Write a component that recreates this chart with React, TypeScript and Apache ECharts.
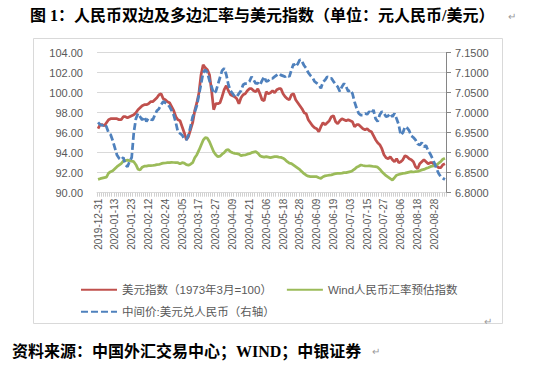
import React, { useEffect, useRef } from "react";
import * as echarts from "echarts";

// Chinese interbank trading days, 2019-12-31 .. 2020-09-04
const tradingDays: [string, number[]][] = [
  ["2019-12", [31]],
  ["2020-01", [2, 3, 6, 7, 8, 9, 10, 13, 14, 15, 16, 17, 20, 21, 22, 23]],
  ["2020-02", [3, 4, 5, 6, 7, 10, 11, 12, 13, 14, 17, 18, 19, 20, 21, 24, 25, 26, 27, 28]],
  ["2020-03", [2, 3, 4, 5, 6, 9, 10, 11, 12, 13, 16, 17, 18, 19, 20, 23, 24, 25, 26, 27, 30, 31]],
  ["2020-04", [1, 2, 3, 7, 8, 9, 10, 13, 14, 15, 16, 17, 20, 21, 22, 23, 24, 27, 28, 29, 30]],
  ["2020-05", [6, 7, 8, 11, 12, 13, 14, 15, 18, 19, 20, 21, 22, 25, 26, 27, 28, 29]],
  ["2020-06", [1, 2, 3, 4, 5, 8, 9, 10, 11, 12, 15, 16, 17, 18, 19, 22, 23, 24, 29, 30]],
  ["2020-07", [1, 2, 3, 6, 7, 8, 9, 10, 13, 14, 15, 16, 17, 20, 21, 22, 23, 24, 27, 28, 29, 30, 31]],
  ["2020-08", [3, 4, 5, 6, 7, 10, 11, 12, 13, 14, 17, 18, 19, 20, 21, 24, 25, 26, 27, 28, 31]],
  ["2020-09", [1, 2, 3, 4]],
];
const categories: string[] = tradingDays.flatMap(([m, days]) =>
  days.map((d) => `${m}-${String(d).padStart(2, "0")}`)
);

const seriesNames = [
  "美元指数（1973年3月=100）",
  "Wind人民币汇率预估指数",
  "中间价:美元兑人民币（右轴）",
];

// US dollar index (left axis)
const dxy = [
  96.4, 96.8, 96.8, 96.7, 97.0, 97.3, 97.4, 97.4, 97.4, 97.4, 97.3, 97.3, 97.6, 97.6, 97.5, 97.6, 97.7,
  97.8, 98.0, 98.3, 98.5, 98.7, 98.8, 98.8, 98.9, 99.1, 99.1, 99.3, 99.5, 99.8, 99.9, 99.4, 99.3, 99.1, 99.0, 98.6, 98.2,
  97.6, 97.3, 97.2, 96.6, 96.0, 95.3, 95.6, 96.3, 97.0, 98.2, 99.0, 100.0, 101.8, 102.8, 102.5, 102.3, 101.8, 100.2, 98.3, 98.9, 98.9, 99.0,
  99.6, 100.3, 100.7, 100.2, 99.8, 99.7, 99.6, 99.4, 98.9, 99.5, 99.8, 99.9, 100.2, 100.4, 100.4, 100.2, 100.1, 100.4, 99.9, 99.3, 99.2,
  100.1, 99.9, 100.0, 100.2, 100.0, 100.3, 100.4, 100.4, 99.9, 99.6, 99.4, 99.3, 99.8, 99.9, 99.3, 99.0, 98.7, 98.4,
  98.0, 97.9, 97.3, 97.0, 96.7, 96.5, 96.4, 96.1, 96.6, 97.0, 96.8, 97.0, 97.2, 97.6, 97.7, 97.1, 96.9, 97.2, 97.4, 97.3,
  97.2, 97.3, 97.2, 97.1, 96.6, 96.8, 96.8, 96.6, 96.4, 96.3, 96.4, 96.2, 96.1, 95.7, 95.3, 95.0, 94.8, 94.4, 93.8, 93.5, 93.4, 93.6, 93.3,
  93.1, 93.4, 93.0, 93.1, 93.3, 93.7, 93.6, 93.4, 93.3, 93.1, 92.6, 92.4, 92.9, 93.1, 93.3, 93.1, 92.9, 93.0, 93.0, 92.8, 92.7,
  92.5, 92.5, 92.8, 92.9,
];

// Wind RMB exchange-rate estimate index (left axis)
const cnyIndex = [
  91.33, 91.4, 91.45, 91.5, 91.55, 91.95, 92.1, 92.2, 92.4, 92.6, 92.75, 92.9, 93.15, 93.2, 93.25, 93.2, 93.15,
  93.1, 92.8, 92.35, 92.27, 92.55, 92.65, 92.65, 92.7, 92.7, 92.72, 92.75, 92.8, 92.82, 92.9, 92.95, 92.97, 93.0, 93.0, 93.03, 93.02,
  93.0, 93.0, 92.88, 93.0, 92.95, 92.8, 92.75, 92.85, 93.0, 93.5, 93.8, 94.25, 94.75, 95.25, 95.5, 95.45, 95.1, 94.6, 94.1, 93.8, 93.6, 93.65,
  93.85, 94.0, 94.25, 94.3, 94.1, 94.0, 93.93, 93.9, 93.85, 93.7, 93.75, 93.77, 93.85, 93.9, 94.0, 94.05, 94.1, 93.95, 93.7, 93.6, 93.55,
  93.6, 93.55, 93.5, 93.55, 93.6, 93.6, 93.55, 93.53, 93.45, 93.3, 93.1, 92.95, 92.9, 92.75, 92.6, 92.45, 92.3, 92.1,
  91.9, 91.75, 91.65, 91.6, 91.6, 91.6, 91.6, 91.5, 91.43, 91.6, 91.68, 91.72, 91.75, 91.78, 91.85, 91.9, 91.93, 91.93, 91.95, 92.0,
  92.0, 92.05, 92.1, 92.2, 92.35, 92.55, 92.65, 92.77, 92.72, 92.68, 92.67, 92.68, 92.65, 92.62, 92.6, 92.55, 92.35, 92.1, 91.9, 91.7, 91.55, 91.4, 91.27,
  91.5, 91.75, 91.82, 91.88, 91.93, 91.95, 92.0, 92.05, 92.1, 92.07, 92.1, 92.12, 92.2, 92.28, 92.33, 92.43, 92.5, 92.6, 92.65, 92.7, 92.78,
  92.95, 93.1, 93.35, 93.45,
];

// USD/CNY central parity (right axis)
const usdcny = [
  6.976, 6.97, 6.968, 6.972, 6.965, 6.95, 6.945, 6.93, 6.912, 6.894, 6.886, 6.882, 6.888, 6.87, 6.865, 6.878, 6.888,
  6.95, 6.985, 6.998, 6.99, 6.982, 6.99, 6.978, 6.986, 6.983, 6.982, 6.994, 7.005, 7.01, 7.02, 7.028, 7.025, 7.022, 7.015, 7.005, 6.994,
  6.975, 6.952, 6.948, 6.944, 6.935, 6.932, 6.944, 6.965, 6.99, 7.002, 7.018, 7.045, 7.072, 7.1, 7.107, 7.1, 7.08, 7.065, 7.048, 7.053, 7.07, 7.088,
  7.105, 7.111, 7.095, 7.07, 7.055, 7.048, 7.04, 7.04, 7.048, 7.055, 7.07, 7.073, 7.073, 7.078, 7.09, 7.082, 7.073, 7.074, 7.069, 7.08, 7.09,
  7.078, 7.08, 7.086, 7.086, 7.09, 7.094, 7.098, 7.094, 7.092, 7.09, 7.094, 7.09, 7.107, 7.122, 7.115, 7.122, 7.133, 7.128,
  7.118, 7.111, 7.1, 7.093, 7.088, 7.078, 7.074, 7.07, 7.061, 7.077, 7.082, 7.09, 7.086, 7.086, 7.078, 7.07, 7.065, 7.053, 7.065, 7.073,
  7.065, 7.053, 7.057, 7.048, 7.027, 7.011, 6.998, 6.994, 6.994, 6.998, 6.996, 7.003, 6.998, 7.007, 6.985, 6.978, 6.995, 7.003, 6.998, 6.99, 6.992, 6.998, 6.99,
  6.998, 6.985, 6.97, 6.944, 6.95, 6.965, 6.962, 6.955, 6.942, 6.938, 6.932, 6.922, 6.919, 6.925, 6.915, 6.918, 6.905, 6.897, 6.886, 6.874, 6.86,
  6.848, 6.84, 6.836, 6.833,
];

const titleText = "图 1：人民币双边及多边汇率与美元指数（单位：元人民币/美元）";
const sourceText = "资料来源：中国外汇交易中心；WIND；中银证券";

const RED = "#C0504D";
const GREEN = "#9BBB59";
const BLUE = "#4F81BD";
const LABEL = "#595959";
const SERIF = '"Liberation Serif", "Noto Sans CJK SC", serif';
const SANS = '"Liberation Sans", "Noto Sans CJK SC", sans-serif';

export default function App() {
  const ref = useRef<HTMLDivElement>(null);
  useEffect(() => {
    document.body.style.margin = "0";
    const chart = echarts.init(ref.current!, null, { renderer: "svg" });
    const legendText = { color: LABEL, fontSize: 11.5, fontFamily: SANS };
    chart.setOption({
      animation: false,
      backgroundColor: "#ffffff",
      grid: { left: 97, right: 90, top: 52.7, bottom: 179.3 },
      xAxis: {
        type: "category",
        data: categories,
        boundaryGap: true,
        axisLine: { lineStyle: { color: "#D9D9D9", width: 1 } },
        axisTick: { show: true, interval: 0, length: 4, lineStyle: { color: "#D0D0D0" } },
        axisLabel: {
          interval: 7,
          rotate: 90,
          margin: 6,
          color: LABEL,
          fontSize: 10,
          fontFamily: SANS,
        },
        splitLine: { show: false },
      },
      yAxis: [
        {
          type: "value",
          min: 90,
          max: 104,
          interval: 2,
          position: "left",
          axisLine: { show: false },
          axisTick: { show: false },
          axisLabel: {
            color: LABEL,
            fontSize: 11,
            fontFamily: SANS,
            margin: 14,
            formatter: (v: number) => v.toFixed(2),
          },
          splitLine: { show: true, lineStyle: { color: "#D9D9D9", width: 1 } },
        },
        {
          type: "value",
          min: 6.8,
          max: 7.15,
          interval: 0.05,
          position: "right",
          axisLine: { show: true, lineStyle: { color: "#868686", width: 1 } },
          axisTick: { show: true, inside: false, length: 5, lineStyle: { color: "#868686" } },
          axisLabel: {
            color: LABEL,
            fontSize: 11,
            fontFamily: SANS,
            margin: 9,
            formatter: (v: number) => v.toFixed(4),
          },
          splitLine: { show: false },
        },
      ],
      legend: [
        {
          data: [seriesNames[0], seriesNames[1]],
          left: 75,
          top: 279,
          itemWidth: 36,
          itemHeight: 12,
          itemGap: 14,
          itemStyle: { opacity: 0 },
          textStyle: legendText,
        },
        {
          data: [seriesNames[2]],
          left: 75,
          top: 301,
          itemWidth: 36,
          itemHeight: 12,
          itemStyle: { opacity: 0 },
          textStyle: legendText,
        },
      ],
      series: [
        {
          name: seriesNames[0],
          type: "line",
          yAxisIndex: 0,
          data: dxy,
          symbol: "none",
          lineStyle: { color: RED, width: 2.75 },
          itemStyle: { color: RED },
        },
        {
          name: seriesNames[1],
          type: "line",
          yAxisIndex: 0,
          data: cnyIndex,
          symbol: "none",
          lineStyle: { color: GREEN, width: 2.75 },
          itemStyle: { color: GREEN },
        },
        {
          name: seriesNames[2],
          type: "line",
          yAxisIndex: 1,
          data: usdcny,
          symbol: "none",
          lineStyle: { color: BLUE, width: 2.75, type: [7, 3] },
          itemStyle: { color: BLUE },
        },
      ],
      graphic: [
        {
          type: "text",
          left: 30,
          top: 7,
          style: { text: titleText, font: `bold 16px ${SERIF}`, fill: "#000" },
        },
        {
          type: "text",
          left: 508,
          top: 11,
          style: { text: "↵", font: `10px ${SANS}`, fill: "#9A9A9A" },
        },
        {
          type: "rect",
          shape: { x: 33.5, y: 38.5, width: 469, height: 285 },
          style: { fill: "none", stroke: "#D9D9D9", lineWidth: 1 },
          silent: true,
        },
        {
          type: "text",
          left: 484,
          top: 316,
          style: { text: "↵", font: `10px ${SANS}`, fill: "#9A9A9A" },
        },
        {
          type: "text",
          left: 12,
          top: 343,
          style: { text: sourceText, font: `bold 16px ${SERIF}`, fill: "#000" },
        },
        {
          type: "text",
          left: 372,
          top: 346,
          style: { text: "↵", font: `10px ${SANS}`, fill: "#9A9A9A" },
        },
      ],
    });
    return () => chart.dispose();
  }, []);
  return <div ref={ref} style={{ width: 536, height: 372 }} />;
}
